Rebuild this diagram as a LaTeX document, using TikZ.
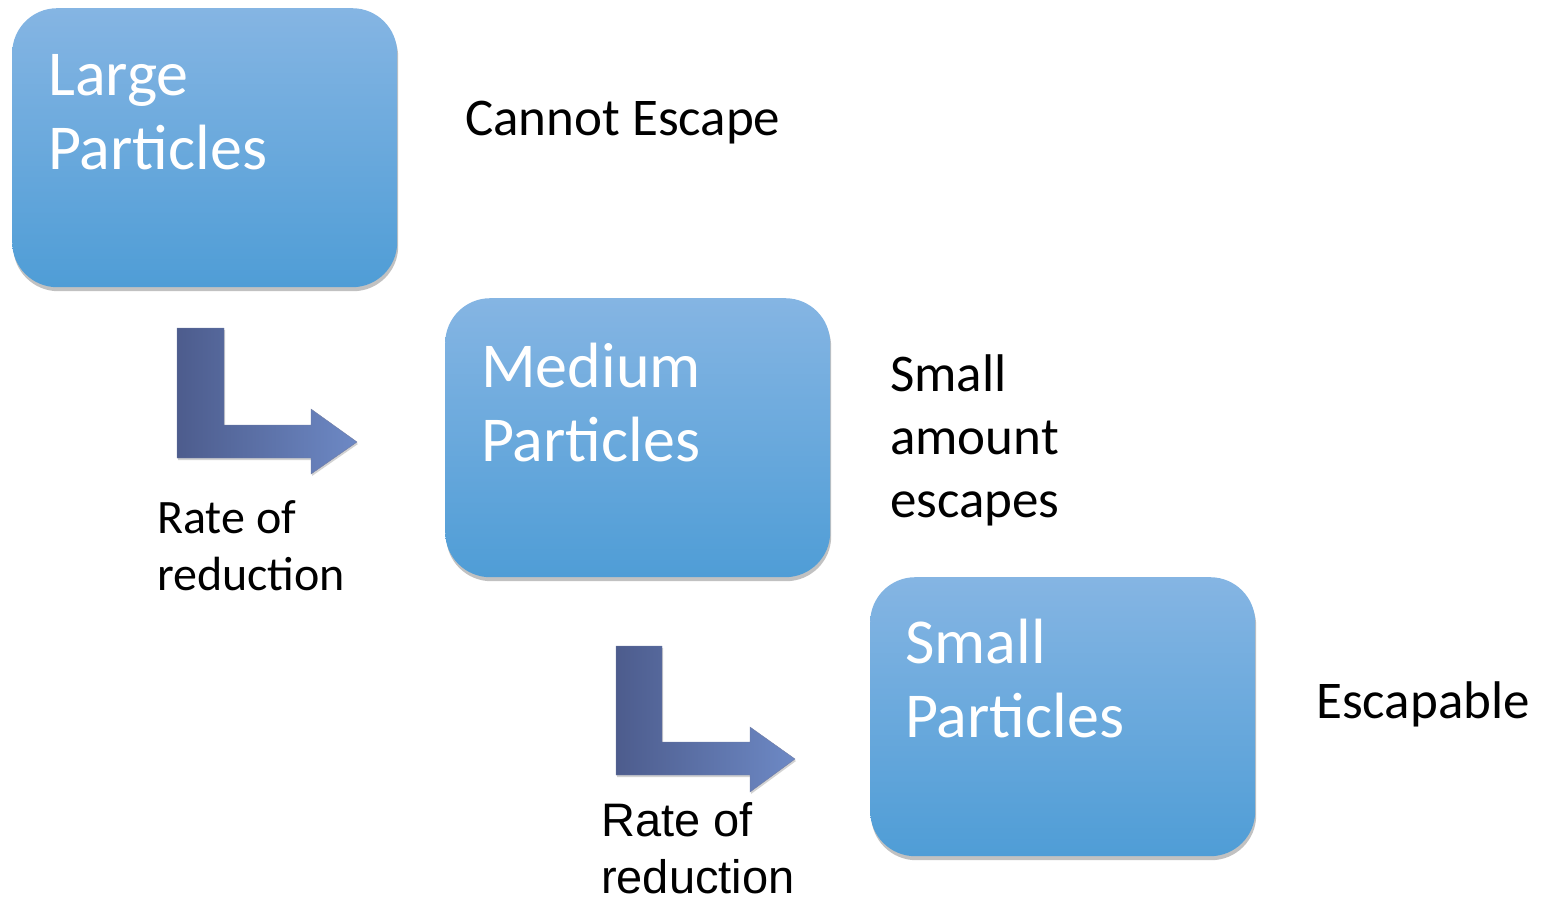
\documentclass[tikz,border=0pt]{standalone}
\usepackage{fontspec}
\setmainfont{Carlito}
\newfontfamily\arialfont{Liberation Sans}
\usetikzlibrary{shadows}
\definecolor{boxtop}{HTML}{85B5E3}
\definecolor{boxbot}{HTML}{4F9DD6}
\definecolor{arrL}{HTML}{4D5C8D}
\definecolor{arrR}{HTML}{6D89C5}
\tikzset{
  pbox/.style={rectangle, rounded corners=45pt, minimum width=385pt, minimum height=279pt,
    anchor=north west, inner sep=0pt, top color=boxtop, bottom color=boxbot, draw=none,
    drop shadow={shadow xshift=1pt, shadow yshift=-4pt, opacity=0.35, fill=black!70}},
  boxtext/.style={anchor=base west, inner sep=0pt, align=left, text=white,
    font=\fontsize{64}{74}\selectfont},
  sidetext/.style={anchor=base west, inner sep=0pt, align=left, text=black},
  bentarrow/.style={left color=arrL, right color=arrR, draw=arrL!80, line width=0.4pt,
    drop shadow={shadow xshift=1pt, shadow yshift=-2pt, opacity=0.25, fill=black!70}}
}
\begin{document}
\begin{tikzpicture}[x=1pt,y=-1pt]
\useasboundingbox (0,0) rectangle (1542,897);

\node[pbox] (large) at (12,8) {};
\node[pbox] (medium) at (445,298) {};
\node[pbox] (small) at (870,577) {};

\node[boxtext] (largetxt) at (48,169) {Large\\Particles};
\node[boxtext] (mediumtxt) at (481,461) {Medium\\Particles};
\node[boxtext] (smalltxt) at (905,737) {Small\\Particles};

\node[sidetext, font=\fontsize{53}{62}\selectfont] (cannot) at (465,135) {Cannot Escape};
\node[sidetext, font=\fontsize{53}{63}\selectfont] (smallamt) at (890,517) {Small\\amount\\escapes};
\node[sidetext, font=\fontsize{53}{60}\selectfont] (escapable) at (1316,718) {Escapable};
\node[sidetext, font=\fontsize{48}{57}\selectfont] (rate1) at (157,590) {Rate of\\reduction};
\node[sidetext, font=\arialfont\fontsize{47}{57}\selectfont] (rate2) at (601,893)
  {\arialfont Rate of\\\arialfont reduction};

\path[bentarrow] (177,328) -- (224,328) -- (224,425) -- (311,425) -- (311,409) -- (357,442)
  -- (311,474) -- (311,458) -- (177,458) -- cycle;
\path[bentarrow] (616,646) -- (662,646) -- (662,742) -- (750,742) -- (750,727) -- (795,759)
  -- (750,792) -- (750,775) -- (616,775) -- cycle;
\end{tikzpicture}
\end{document}
